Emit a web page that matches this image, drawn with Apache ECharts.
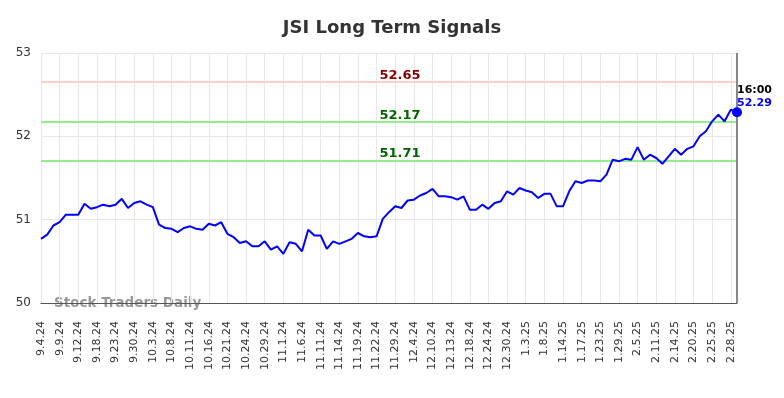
<!DOCTYPE html>
<html>
<head>
<meta charset="utf-8">
<script src="https://cdn.jsdelivr.net/npm/echarts@6/dist/echarts.min.js"></script>
<style>
  html, body { margin: 0; padding: 0; background: #fff; }
  #chart { width: 784px; height: 398px; }
</style>
</head>
<body>
<div id="chart"></div>
<script>
// tick labels, one every 3rd trading day
const dateLabels = [
  '9.4.24', '9.9.24', '9.12.24', '9.18.24', '9.23.24', '9.30.24', '10.3.24', '10.8.24',
  '10.11.24', '10.16.24', '10.21.24', '10.24.24', '10.29.24', '11.1.24', '11.6.24', '11.11.24',
  '11.14.24', '11.19.24', '11.22.24', '11.29.24', '12.4.24', '12.10.24', '12.13.24', '12.18.24',
  '12.24.24', '12.30.24', '1.3.25', '1.8.25', '1.14.25', '1.17.25', '1.23.25', '1.29.25',
  '2.5.25', '2.11.25', '2.14.25', '2.20.25', '2.25.25', '2.28.25'
];

// daily closes
const prices = [
  50.77, 50.82, 50.93, 50.97, 51.06, 51.06, 51.06, 51.19, 51.13, 51.15,
  51.18, 51.16, 51.18, 51.25, 51.14, 51.20, 51.22, 51.18, 51.15, 50.94,
  50.90, 50.89, 50.85, 50.90, 50.92, 50.89, 50.88, 50.95, 50.93, 50.97,
  50.83, 50.79, 50.72, 50.74, 50.68, 50.68, 50.74, 50.64, 50.68, 50.59,
  50.73, 50.71, 50.62, 50.88, 50.81, 50.81, 50.65, 50.74, 50.71, 50.74,
  50.77, 50.84, 50.80, 50.79, 50.80, 51.01, 51.09, 51.16, 51.14, 51.23,
  51.24, 51.29, 51.32, 51.37, 51.28, 51.28, 51.27, 51.24, 51.28, 51.12,
  51.12, 51.18, 51.13, 51.20, 51.22, 51.34, 51.30, 51.38, 51.35, 51.33,
  51.26, 51.31, 51.31, 51.16, 51.16, 51.34, 51.46, 51.44, 51.47, 51.47,
  51.46, 51.54, 51.72, 51.70, 51.73, 51.72, 51.87, 51.72, 51.78, 51.74,
  51.67, 51.76, 51.85, 51.78, 51.85, 51.88, 52.00, 52.06, 52.18, 52.26,
  52.18, 52.32, 52.29
];

const resistance = [52.65];
const support = [52.17, 51.71];
const yTicks = [50, 51, 52, 53];
const lastTime = '16:00';

const LABEL_STEP = 3;
const categories = prices.map((p, i) => (i % LABEL_STEP === 0 ? dateLabels[i / LABEL_STEP] || '' : ''));
const lastIdx = prices.length - 1;

const chart = echarts.init(document.getElementById('chart'));

const levelLine = (v, lineColor, textColor) => ({
  yAxis: v,
  lineStyle: { color: lineColor, width: 2, type: 'solid' },
  label: {
    show: true,
    position: 'insideMiddleTop',
    formatter: v.toFixed(2),
    color: textColor,
    fontWeight: 'bold',
    fontSize: 13,
    fontFamily: 'DejaVu Sans',
    distance: 0,
    offset: [11, 0]
  }
});

chart.setOption({
  animation: false,
  textStyle: { fontFamily: 'DejaVu Sans' },
  title: {
    text: 'JSI Long Term Signals',
    left: 'center',
    top: 14,
    textStyle: { fontSize: 18, fontWeight: 'bold', color: '#333' }
  },
  grid: { left: 41, right: 47, top: 53, bottom: 95, containLabel: false },
  xAxis: {
    type: 'category',
    data: categories,
    boundaryGap: false,
    axisLine: { lineStyle: { color: '#555', width: 1 } },
    axisTick: { show: false },
    axisLabel: {
      interval: LABEL_STEP - 1,
      rotate: 90,
      margin: 18,
      fontSize: 11,
      color: '#333'
    },
    splitLine: { show: true, interval: LABEL_STEP - 1, lineStyle: { color: '#e8e8e8', width: 1 } }
  },
  yAxis: {
    type: 'value',
    min: yTicks[0],
    max: yTicks[yTicks.length - 1],
    interval: 1,
    axisLine: { show: false },
    axisTick: { show: false },
    axisLabel: { fontSize: 12, color: '#333', margin: 10 },
    splitLine: { lineStyle: { color: '#e8e8e8', width: 1 } }
  },
  graphic: [
    {
      type: 'text',
      left: 54,
      top: 296,
      style: { text: 'Stock Traders Daily', fontSize: 13.5, fontWeight: 'bold', fill: '#999', fontFamily: 'DejaVu Sans' }
    }
  ],
  series: [
    {
      type: 'line',
      data: prices,
      showSymbol: false,
      lineStyle: { color: '#0000ff', width: 2 },
      itemStyle: { color: '#0000ff' },
      z: 5,
      markLine: {
        silent: true,
        symbol: 'none',
        data: [
          levelLine(resistance[0], '#ffcccc', '#8b0000'),
          levelLine(support[0], '#90ee90', '#006400'),
          levelLine(support[1], '#90ee90', '#006400'),
          {
            xAxis: lastIdx,
            lineStyle: { color: '#888', width: 2, type: 'solid' },
            label: { show: false }
          }
        ]
      },
      markPoint: {
        silent: true,
        symbol: 'circle',
        symbolSize: 10,
        itemStyle: { color: '#0000ff' },
        data: [
          {
            coord: [lastIdx, prices[lastIdx]],
            label: {
              show: true,
              position: 'top',
              align: 'left',
              distance: -2,
              offset: [0, 0],
              formatter: '{t|' + lastTime + '}\n{v|' + prices[lastIdx].toFixed(2) + '}',
              rich: {
                t: { color: '#000', fontWeight: 'bold', fontSize: 11, lineHeight: 13, fontFamily: 'DejaVu Sans' },
                v: { color: '#0000ff', fontWeight: 'bold', fontSize: 11, lineHeight: 13, fontFamily: 'DejaVu Sans' }
              }
            }
          }
        ]
      }
    }
  ]
});
</script>
</body>
</html>
